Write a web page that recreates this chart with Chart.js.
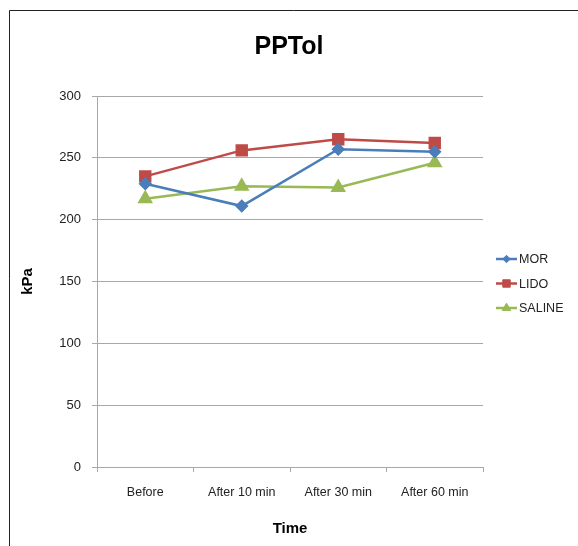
<!DOCTYPE html>
<html>
<head>
<meta charset="utf-8">
<script src="https://cdn.jsdelivr.net/npm/chart.js@4/dist/chart.umd.min.js"></script>
<style>
  html, body { margin: 0; padding: 0; background: #fff; }
  #wrap { position: relative; width: 578px; height: 546px; }
</style>
</head>
<body>
<div id="wrap"><canvas id="c" width="578" height="546"></canvas></div>
<script>
// Time points on the x axis
const timePoints = ['Before', 'After 10 min', 'After 30 min', 'After 60 min'];
// Pressure pain tolerance (kPa) per group
const morValues = [229, 211, 257, 255];
const lidoValues = [235, 256, 265, 262];
const salineValues = [217, 227, 226, 246];
// Y-axis range and step
const yMin = 0, yMax = 300, yStep = 50;

const FONT = '"Liberation Sans", Arial, sans-serif';
const GRID = '#a8a8a8';

// Outer frame of the chart (left and top edges visible)
const framePlugin = {
  id: 'frame',
  beforeDraw(chart) {
    const ctx = chart.ctx;
    ctx.save();
    ctx.fillStyle = '#fff';
    ctx.fillRect(0, 0, chart.width, chart.height);
    ctx.strokeStyle = '#222';
    ctx.lineWidth = 1;
    ctx.beginPath();
    ctx.moveTo(9.5, chart.height);
    ctx.lineTo(9.5, 10.5);
    ctx.lineTo(chart.width, 10.5);
    ctx.stroke();
    ctx.restore();
  }
};

// Legend on the right: short line segment with the series marker, then the label
const lineLegendPlugin = {
  id: 'lineLegend',
  afterDraw(chart) {
    const ctx = chart.ctx;
    const x0 = 496, x1 = 517, startY = 259, gap = 24.5;
    ctx.save();
    chart.data.datasets.forEach((ds, i) => {
      const y = startY + i * gap;
      ctx.strokeStyle = ds.borderColor;
      ctx.lineWidth = 2.5;
      ctx.beginPath();
      ctx.moveTo(x0, y);
      ctx.lineTo(x1, y);
      ctx.stroke();
      ctx.fillStyle = ds.borderColor;
      ctx.strokeStyle = ds.borderColor;
      ctx.lineWidth = 1;
      Chart.helpers.drawPoint(ctx, {
        pointStyle: ds.pointStyle,
        radius: ds.pointRadius * 0.75,
        borderWidth: 1
      }, (x0 + x1) / 2, y);
      ctx.fillStyle = '#222';
      ctx.font = '12.5px ' + FONT;
      ctx.textBaseline = 'middle';
      ctx.textAlign = 'left';
      ctx.fillText(ds.label, x1 + 2, y + 1);
    });
    ctx.restore();
  }
};

const ds = (label, data, color, style, r) => ({
  label, data,
  borderColor: color,
  backgroundColor: color,
  pointBackgroundColor: color,
  pointBorderColor: color,
  borderWidth: 2.5,
  pointStyle: style,
  pointRadius: r,
  pointHoverRadius: r,
  tension: 0,
  yAxisID: 'y'
});

new Chart(document.getElementById('c'), {
  type: 'line',
  data: {
    labels: timePoints,
    datasets: [
      ds('MOR', morValues, '#4A7EBB', 'rectRot', 5),
      ds('LIDO', lidoValues, '#BE4B48', 'rect', 7),
      ds('SALINE', salineValues, '#98B954', 'triangle', 6.5)
    ]
  },
  options: {
    responsive: false,
    animation: false,
    devicePixelRatio: 1,
    layout: { padding: { left: 0, right: 0, top: 0, bottom: 8 } },
    plugins: {
      legend: { display: false },
      tooltip: { enabled: false },
      title: {
        display: true,
        text: 'PPTol',
        color: '#000',
        font: { family: FONT, size: 25, weight: 'bold', lineHeight: 1.2 },
        padding: { top: 32, bottom: 34 }
      }
    },
    scales: {
      y: {
        min: yMin, max: yMax,
        ticks: { stepSize: yStep, color: '#222', padding: 11, font: { family: FONT, size: 13 } },
        grid: { color: GRID, tickLength: 5, drawTicks: true, lineWidth: 1 },
        border: { color: GRID },
        title: {
          display: true, text: 'kPa', color: '#000',
          font: { family: FONT, size: 15, weight: 'bold' },
          padding: { top: 19, bottom: 0 }
        },
        afterFit(scale) { scale.width = 97; }
      },
      // empty right-hand band that holds the legend
      yRight: {
        position: 'right',
        display: true,
        min: yMin, max: yMax,
        ticks: { display: false },
        grid: { display: false, drawOnChartArea: false },
        border: { display: false },
        afterFit(scale) { scale.width = 95; }
      },
      x: {
        offset: true,
        ticks: { color: '#222', padding: 13, font: { family: FONT, size: 12.5 } },
        grid: { offset: true, display: true, drawOnChartArea: false, color: GRID, tickLength: 5 },
        border: { color: GRID },
        title: {
          display: true, text: 'Time', color: '#000',
          font: { family: FONT, size: 15, weight: 'bold' },
          padding: { top: 14, bottom: 0 }
        },
        afterFit(scale) { scale.height = 71; }
      }
    }
  },
  plugins: [framePlugin, lineLegendPlugin]
});
</script>
</body>
</html>
